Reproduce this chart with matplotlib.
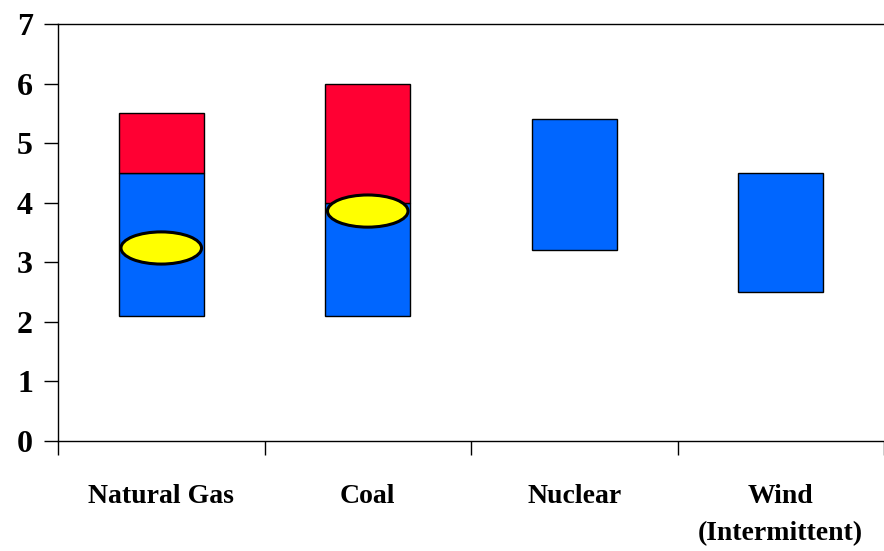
import matplotlib
matplotlib.use("Agg")
import matplotlib.pyplot as plt
from matplotlib.patches import Ellipse
import numpy as np

categories = ["Natural Gas", "Coal", "Nuclear", "Wind\n(Intermittent)"]
blue_low = [2.1, 2.1, 3.2, 2.5]
blue_high = [4.5, 4.0, 5.4, 4.5]
red_high = [5.5, 6.0, None, None]
ellipse_y = [3.24, 3.86, None, None]
yticks = [0, 1, 2, 3, 4, 5, 6, 7]

BLUE = "#0066FF"
RED = "#FF0033"
YELLOW = "#FFFF00"

plt.rcParams['font.family'] = ['Liberation Serif', 'DejaVu Serif']
plt.rcParams['font.weight'] = 'bold'

fig = plt.figure(figsize=(8.84, 5.51), dpi=100)
ax = fig.add_axes([58/884, 1-441/551, 1-58/884, (441-24)/551])

x = np.arange(len(categories))
bw = 0.41
ax.bar(x, np.array(blue_high) - np.array(blue_low), bottom=blue_low, width=bw,
       color=BLUE, edgecolor="black", linewidth=1.0, zorder=2)
for xi, lo, hi in zip(x, blue_high, red_high):
    if hi is not None:
        ax.bar(xi, hi - lo, bottom=lo, width=bw, color=RED, edgecolor="black",
               linewidth=1.0, zorder=2)
for xi, ey in zip(x, ellipse_y):
    if ey is not None:
        ax.add_patch(Ellipse((xi, ey), 0.39, 0.54, facecolor=YELLOW,
                             edgecolor="black", linewidth=2.2, zorder=3))

ax.set_xlim(-0.5, len(categories) - 0.5)
ax.set_ylim(0, 7)
ax.set_yticks(yticks)
ax.set_yticklabels([str(v) for v in yticks], fontsize=23, fontweight='bold')
ax.tick_params(axis='y', direction='out', length=10, width=1, pad=8)

ax.set_xticks(x)
ax.set_xticklabels(categories, fontsize=20, fontweight='bold', linespacing=1.65)
ax.tick_params(axis='x', which='major', length=0, pad=31)
ax.set_xticks(np.arange(len(categories) + 1) - 0.5, minor=True)
ax.tick_params(axis='x', which='minor', direction='out', length=10, width=1)

ax.spines['right'].set_visible(False)
for s in ['top', 'left', 'bottom']:
    ax.spines[s].set_linewidth(1.0)

fig.savefig("out.png", dpi=100)
